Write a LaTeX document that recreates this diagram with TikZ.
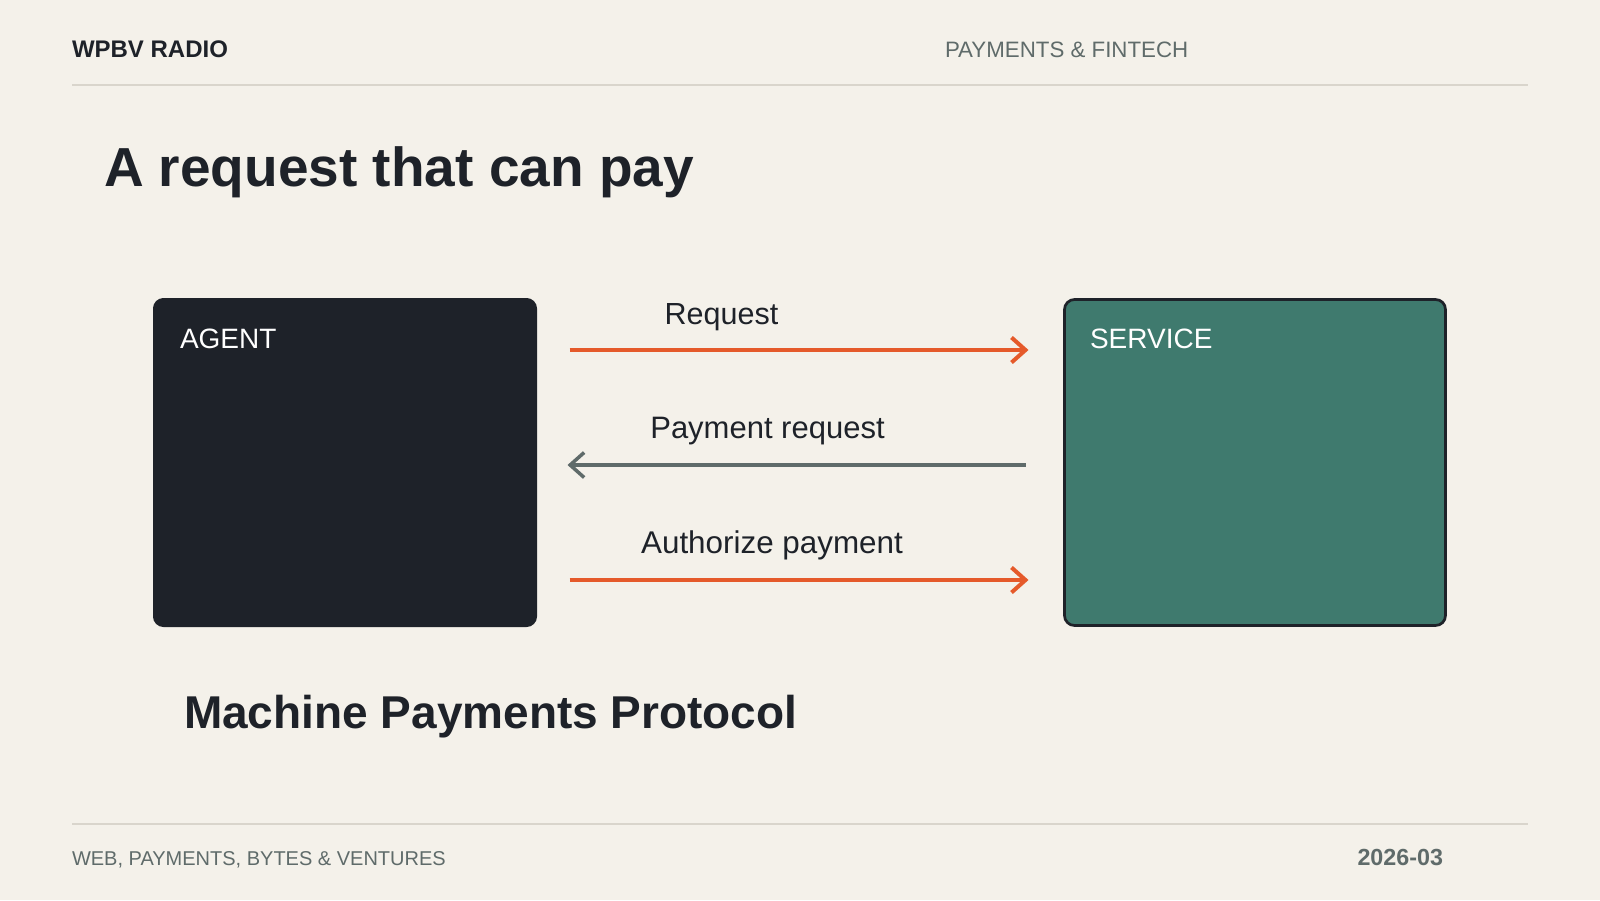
\documentclass[tikz,border=0pt]{standalone}
\usepackage{fontspec}
\setmainfont{Liberation Sans}
\usetikzlibrary{arrows.meta}
\definecolor{bg}{HTML}{F4F1EA}
\definecolor{ink}{HTML}{1E2229}
\definecolor{muted}{HTML}{5F6B6A}
\definecolor{accent}{HTML}{E55A2B}
\definecolor{teal}{HTML}{3F7A6E}
\definecolor{rule}{HTML}{D9D5CC}
\newcommand{\fs}[1]{\fontsize{#1}{#1}\selectfont}
\tikzset{
  txt/.style={inner sep=0pt, outer sep=0pt, anchor=base west},
  panel/.style={rounded corners=10pt, inner sep=0pt, outer sep=0pt},
  fwd/.style={draw=accent, line width=4pt, -{Straight Barb[length=14pt,width=25pt]}},
  back/.style={draw=muted, line width=3.5pt, -{Straight Barb[length=14pt,width=25pt]}},
  hrule/.style={draw=rule, line width=2pt}
}
\begin{document}
\begin{tikzpicture}[x=1pt,y=-1pt]
\useasboundingbox (0,0) rectangle (1600,900);
\fill[bg] (0,0) rectangle (1600,900);

% header
\node[txt, text=ink] (brand) at (72,57) {\fs{24}\bfseries WPBV RADIO};
\node[txt, text=muted] (topic) at (945,57) {\fs{22.3}PAYMENTS \& FINTECH};
\coordinate (hl) at (72,85);
\coordinate (hr) at (1528,85);
\draw[hrule] (hl) -- (hr);

% title
\node[txt, text=ink] (title) at (104,186) {\fs{55}\bfseries A request that can pay};

% panels
\node[panel, fill=ink, draw=ink, line width=1pt, minimum width=383pt, minimum height=328pt, anchor=north west] (agent) at (153.5,298.5) {};
\node[panel, fill=teal, draw=ink, line width=2.7pt, minimum width=381pt, minimum height=326pt, anchor=north west] (service) at (1064.5,299.5) {};
\node[txt, text=white] (agentlbl) at (180,348) {\fs{28}AGENT};
\node[txt, text=white] (servicelbl) at (1090,348) {\fs{28}SERVICE};

% arrows
\draw[fwd, shorten <=33pt, shorten >=36pt] (agent.east |- 0,350) -- (service.west |- 0,350);
\draw[back, shorten <=39pt, shorten >=31pt] (service.west |- 0,465) -- (agent.east |- 0,465);
\draw[fwd, shorten <=33pt, shorten >=36pt] (agent.east |- 0,580) -- (service.west |- 0,580);

\node[txt, anchor=base, text=ink] (l1) at (721.5,324) {\fs{30.5}Request};
\node[txt, anchor=base, text=ink] (l2) at (767.5,438) {\fs{31}Payment request};
\node[txt, anchor=base, text=ink] (l3) at (772,553) {\fs{31.4}Authorize payment};

% subtitle
\node[txt, text=ink] (sub) at (184,728) {\fs{46}\bfseries Machine Payments Protocol};

% footer
\coordinate (fl) at (72,824);
\coordinate (fr) at (1528,824);
\draw[hrule] (fl) -- (fr);
\node[txt, text=muted] (foot) at (72,865) {\fs{20}WEB, PAYMENTS, BYTES \& VENTURES};
\node[txt, anchor=base east, text=muted] (date) at (1443,865) {\fs{23.3}\bfseries 2026-03};
\end{tikzpicture}
\end{document}
